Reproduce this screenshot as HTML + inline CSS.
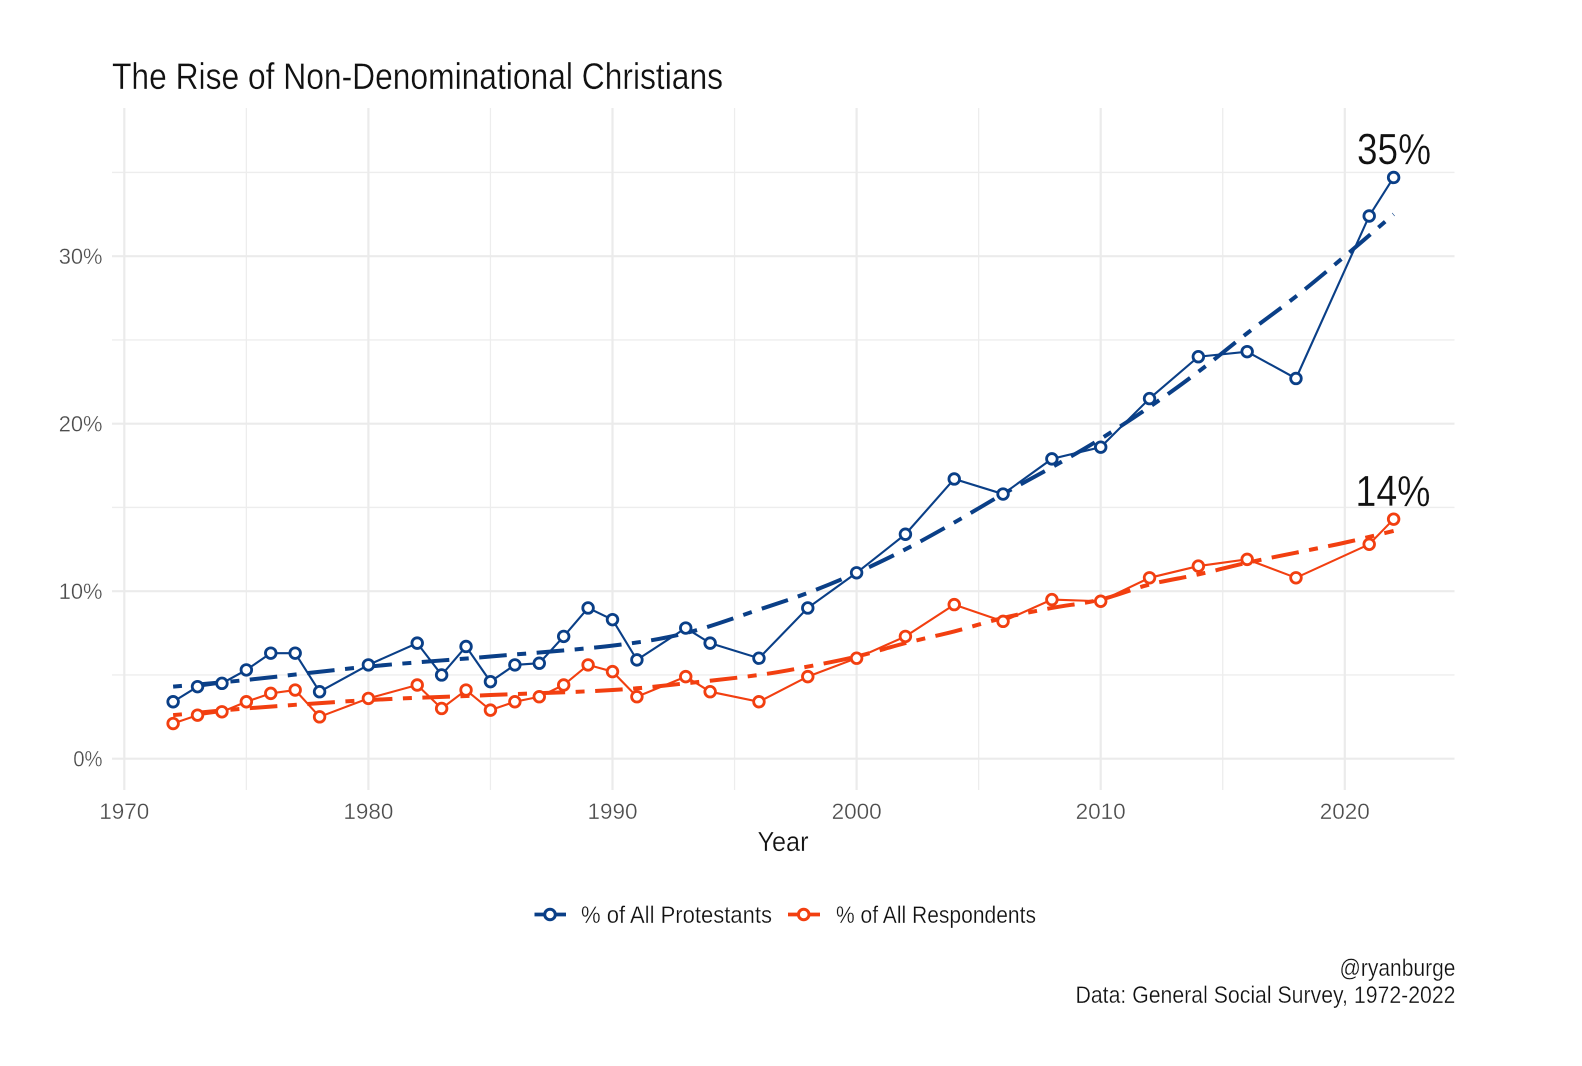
<!DOCTYPE html>
<html lang="en">
<head>
<meta charset="utf-8">
<title>The Rise of Non-Denominational Christians</title>
<style>
  html, body { margin: 0; padding: 0; background: #fff; }
  svg { display: block; }
  text { font-family: "Liberation Sans", sans-serif; stroke: #fff; stroke-width: 0.3px; }
</style>
</head>
<body>
<svg id="chart" xmlns="http://www.w3.org/2000/svg" width="1582" height="1066" viewBox="0 0 1582 1066">
  <rect width="1582" height="1066" fill="#ffffff"/>
  <g id="grid"></g>
  <g id="trends"></g>
  <g id="series"></g>
  <g id="ticks"></g>

  <text x="112" y="89" font-size="37" fill="#111" textLength="611" lengthAdjust="spacingAndGlyphs">The Rise of Non-Denominational Christians</text>
  <text x="783" y="851" font-size="28" fill="#111" text-anchor="middle" textLength="51" lengthAdjust="spacingAndGlyphs">Year</text>
  <text x="1394" y="164" font-size="44" fill="#111" text-anchor="middle" textLength="74" lengthAdjust="spacingAndGlyphs">35%</text>
  <text x="1393" y="506" font-size="44" fill="#111" text-anchor="middle" textLength="75" lengthAdjust="spacingAndGlyphs">14%</text>

  <g>
    <g>
      <line x1="534.5" x2="566" y1="914.5" y2="914.5" stroke="#0a3f87" stroke-width="3.8"/>
      <circle cx="550" cy="914.5" r="5.3" fill="#fff" stroke="#0a3f87" stroke-width="3"/>
      <text x="581" y="923" font-size="24" fill="#111" textLength="191" lengthAdjust="spacingAndGlyphs">% of All Protestants</text>
    </g>
    <g>
      <line x1="788" x2="820" y1="914.5" y2="914.5" stroke="#f23f10" stroke-width="3.8"/>
      <circle cx="803.7" cy="914.5" r="5.3" fill="#fff" stroke="#f23f10" stroke-width="3"/>
      <text x="836" y="923" font-size="24" fill="#111" textLength="200" lengthAdjust="spacingAndGlyphs">% of All Respondents</text>
    </g>
  </g>

  <text x="1455.5" y="976" font-size="24" fill="#111" text-anchor="end" textLength="116" lengthAdjust="spacingAndGlyphs">@ryanburge</text>
  <text x="1455.5" y="1003" font-size="24" fill="#111" text-anchor="end" textLength="380" lengthAdjust="spacingAndGlyphs">Data: General Social Survey, 1972-2022</text>
</svg>

<script>
const years = [1972,1973,1974,1975,1976,1977,1978,1980,1982,1983,1984,1985,1986,1987,1988,1989,1990,1991,1993,1994,1996,1998,2000,2002,2004,2006,2008,2010,2012,2014,2016,2018,2021,2022];
const protestants = [3.4,4.3,4.5,5.3,6.3,6.3,4.0,5.6,6.9,5.0,6.7,4.6,5.6,5.7,7.3,9.0,8.3,5.9,7.8,6.9,6.0,9.0,11.1,13.4,16.7,15.8,17.9,18.6,21.5,24.0,24.3,22.7,32.4,34.7];
const respondents = [2.1,2.6,2.8,3.4,3.9,4.1,2.5,3.6,4.4,3.0,4.1,2.9,3.4,3.7,4.4,5.6,5.2,3.7,4.9,4.0,3.4,4.9,6.0,7.3,9.2,8.2,9.5,9.4,10.8,11.5,11.9,10.8,12.8,14.3];
const trendYears = [1972,1975,1980,1985,1990,1993,1996,1998,2000,2002,2004,2006,2008,2010,2012,2014,2016,2018,2020,2022];
const protestantsTrend = [4.3,4.7,5.5,6.1,6.75,7.5,8.9,9.9,11.1,12.5,14.1,15.8,17.4,19.1,21.0,23.1,25.4,27.6,30.0,32.5];
const respondentsTrend = [2.6,3.0,3.5,3.8,4.1,4.5,5.0,5.5,6.1,6.9,7.6,8.4,9.0,9.5,10.4,11.0,11.7,12.3,12.9,13.6];
const xMajorTicks = [1970,1980,1990,2000,2010,2020];
const xMinorTicks = [1975,1985,1995,2005,2015];
const yMajorTicks = [0,10,20,30];
const yMinorTicks = [5,15,25,35];

const NS = 'http://www.w3.org/2000/svg';
const BLUE = '#0a3f87';
const RED = '#f23f10';
const xScale = function (year) { return 124.3 + 24.41 * (year - 1970); };
const yScale = function (value) { return 758.7 - 16.75 * value; };

function make(tag, parent) {
  const el = document.createElementNS(NS, tag);
  parent.appendChild(el);
  return el;
}

function set(el, attrs) {
  Object.keys(attrs).forEach(function (k) { el.setAttribute(k, attrs[k]); });
  return el;
}

const gridGroup = document.getElementById('grid');
const tickGroup = document.getElementById('ticks');
const trendGroup = document.getElementById('trends');
const seriesGroup = document.getElementById('series');

xMinorTicks.forEach(function (t) {
  const el = make('line', gridGroup);
  
  
  set(el, { x1: xScale(t), x2: xScale(t), y1: 108, y2: 790, stroke: '#ededed', 'stroke-width': 1.3 });
});
yMinorTicks.forEach(function (t) {
  const el = make('line', gridGroup);
  
  
  set(el, { x1: 112, x2: 1454.5, y1: yScale(t), y2: yScale(t), stroke: '#ededed', 'stroke-width': 1.3 });
});
xMajorTicks.forEach(function (t) {
  const el = make('line', gridGroup);
  
  
  set(el, { x1: xScale(t), x2: xScale(t), y1: 108, y2: 790, stroke: '#ebebeb', 'stroke-width': 2.2 });
  const label = make('text', tickGroup);
  
  
  set(label, { x: xScale(t), y: 819, 'font-size': 22, fill: '#4d4d4d', 'text-anchor': 'middle', textLength: 50, lengthAdjust: 'spacingAndGlyphs' });
  label.textContent = String(t);
});
yMajorTicks.forEach(function (t) {
  const el = make('line', gridGroup);
  
  
  set(el, { x1: 112, x2: 1454.5, y1: yScale(t), y2: yScale(t), stroke: '#ebebeb', 'stroke-width': 2.2 });
  const text = t + '%';
  const label = make('text', tickGroup);
  
  
  set(label, { x: 102.5, y: yScale(t) + 8, 'font-size': 22, fill: '#4d4d4d', 'text-anchor': 'end', textLength: 14.6 * text.length, lengthAdjust: 'spacingAndGlyphs' });
  label.textContent = text;
});

function smoothPath(xs, ys) {
  const pts = xs.map(function (x, i) { return [xScale(x), yScale(ys[i])]; });
  let d = 'M' + pts[0][0] + ' ' + pts[0][1];
  for (let i = 0; i < pts.length - 1; i++) {
    const p0 = pts[Math.max(i - 1, 0)];
    const p1 = pts[i];
    const p2 = pts[i + 1];
    const p3 = pts[Math.min(i + 2, pts.length - 1)];
    const c1x = p1[0] + (p2[0] - p0[0]) / 6;
    const c1y = p1[1] + (p2[1] - p0[1]) / 6;
    const c2x = p2[0] - (p3[0] - p1[0]) / 6;
    const c2y = p2[1] - (p3[1] - p1[1]) / 6;
    d += 'C' + c1x + ' ' + c1y + ' ' + c2x + ' ' + c2y + ' ' + p2[0] + ' ' + p2[1];
  }
  return d;
}

const protTrendEl = make('path', trendGroup);


set(protTrendEl, { d: smoothPath(trendYears, protestantsTrend), fill: 'none', stroke: BLUE, 'stroke-width': 4, 'stroke-dasharray': '9 10.5 27.6 10.5' });

const respTrendEl = make('path', trendGroup);


set(respTrendEl, { d: smoothPath(trendYears, respondentsTrend), fill: 'none', stroke: RED, 'stroke-width': 4, 'stroke-dasharray': '9 10.5 27.6 10.5' });

function linePoints(values) {
  return values.map(function (v, i) { return xScale(years[i]) + ',' + yScale(v); }).join(' ');
}

const protLine = make('polyline', seriesGroup);


set(protLine, { points: linePoints(protestants), fill: 'none', stroke: BLUE, 'stroke-width': 2.1 });

const respLine = make('polyline', seriesGroup);


set(respLine, { points: linePoints(respondents), fill: 'none', stroke: RED, 'stroke-width': 2.1 });

protestants.forEach(function (v, i) {
  const c = make('circle', seriesGroup);
  
  
  set(c, { cx: xScale(years[i]), cy: yScale(v), r: 5.3, fill: '#fff', stroke: BLUE, 'stroke-width': 2.8 });
});
respondents.forEach(function (v, i) {
  const c = make('circle', seriesGroup);
  
  
  set(c, { cx: xScale(years[i]), cy: yScale(v), r: 5.3, fill: '#fff', stroke: RED, 'stroke-width': 2.8 });
});
</script>
</body>
</html>
